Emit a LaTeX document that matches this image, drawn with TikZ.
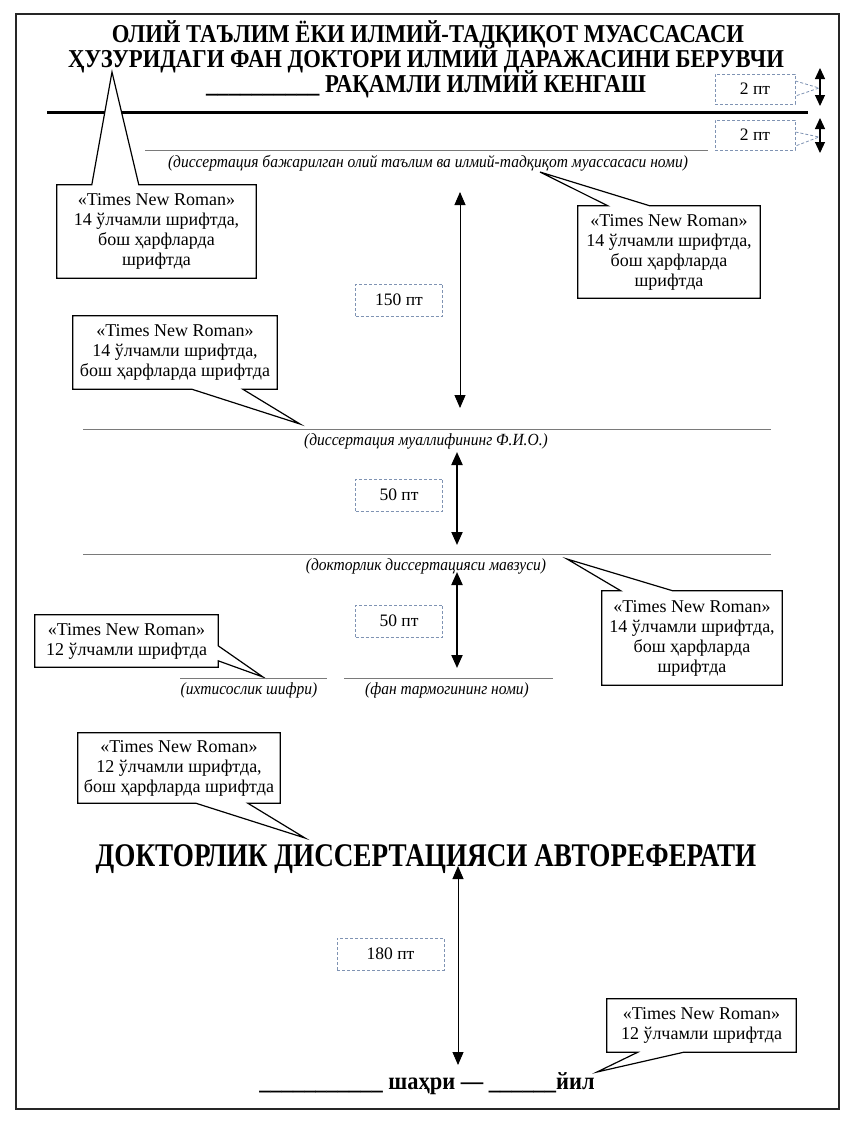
\documentclass[tikz,border=0pt]{standalone}
\usepackage{fontspec}
\setmainfont{Liberation Serif}
\usetikzlibrary{arrows.meta,calc}
\definecolor{dimblue}{HTML}{7F93B3}
\definecolor{linegray}{HTML}{7A7A7A}
\tikzset{
  frame/.style={draw=black!85, line width=1.5pt},
  cbox/.style={inner sep=0pt, align=center, font=\fontsize{18}{20}\selectfont},
  cline/.style={draw=black, line width=1.2pt, fill=white, line join=miter},
  dimbox/.style={draw=dimblue, dashed, line width=1pt, dash pattern=on 3pt off 2pt, inner sep=0pt, font=\fontsize{17.5}{20}\selectfont},
  dimlead/.style={draw=dimblue, dashed, line width=0.8pt, dash pattern=on 3pt off 2pt},
  head/.style={inner sep=0pt, anchor=base, font=\bfseries\fontsize{22}{25}\selectfont},
  capt/.style={inner sep=0pt, font=\itshape\fontsize{15.5}{18}\selectfont},
  fillline/.style={draw=linegray, line width=1pt},
  dimarrow/.style={{Triangle[width=11pt,length=13pt]}-{Triangle[width=11pt,length=13pt]}, line width=0.9pt},
  dimarrowb/.style={{Triangle[width=11pt,length=13pt]}-{Triangle[width=11pt,length=13pt]}, line width=2pt},
  smallarrow/.style={{Triangle[width=10pt,length=11pt]}-{Triangle[width=10pt,length=11pt]}, line width=1.2pt},
}
\newcommand{\hscale}[1]{\scalebox{1.03}[1.17]{#1}}
\newcommand{\cscale}[1]{\scalebox{1}[1.1]{#1}}
\begin{document}
\begin{tikzpicture}[x=1pt,y=-1pt]
\useasboundingbox (0,0) rectangle (846,1138);
\draw[frame] (16,14) rectangle (839,1109);

% header
\node[head] (h1) at (428,42) {\hscale{ОЛИЙ ТАЪЛИМ ЁКИ ИЛМИЙ-ТАДҚИҚОТ МУАССАСАСИ}};
\node[head] (h2) at (426,67) {\hscale{ҲУЗУРИДАГИ ФАН ДОКТОРИ ИЛМИЙ ДАРАЖАСИНИ БЕРУВЧИ}};
\node[head] (h3) at (426,92) {\hscale{\_\_\_\_\_\_\_\_\_\_ РАҚАМЛИ ИЛМИЙ КЕНГАШ}};

% thick rule
\coordinate (r1a) at (47,112);
\coordinate (r1b) at (808,112);
\draw[line width=3pt] (r1a) -- (r1b);

% 2 pt boxes
\node[dimbox, minimum width=80pt, minimum height=30pt] (d1) at (755,89) {2 пт};
\node[dimbox, minimum width=80pt, minimum height=30pt] (d2) at (755,135) {2 пт};
\coordinate (a1t) at (820,68);
\coordinate (a1b) at (820,106);
\coordinate (a2t) at (820,118);
\coordinate (a2b) at (820,153);
\draw[smallarrow] (a1t) -- (a1b);
\draw[smallarrow] (a2t) -- (a2b);
\coordinate (d1p) at (819,88);
\coordinate (d2p) at (819,137);
\draw[dimlead] ($(d1.east)+(0,-8)$) -- (d1p) -- ($(d1.east)+(0,7)$);
\draw[dimlead] ($(d2.east)+(0,-3)$) -- (d2p) -- ($(d2.east)+(0,11)$);

% institution line
\coordinate (l1a) at (145,150);
\coordinate (l1b) at (708,150);
\draw[fillline] (l1a) -- (l1b);
\node[capt] (c1) at (428,163) {\cscale{(диссертация бажарилган олий таълим ва илмий-тадқиқот муассасаси номи)}};

% callout A (left, header)
\node[cbox, minimum width=199pt, minimum height=93pt] (ca) at (156.5,231.5) {};
\coordinate (cat) at (112,72);
\draw[cline] (ca.north west) -- ($(ca.north west)+(35,0)$) -- (cat) -- ($(ca.north west)+(82,0)$) -- (ca.north east) -- (ca.south east) -- (ca.south west) -- cycle;
\node[cbox] at (ca) {«Times New Roman»\\14 ўлчамли шрифтда,\\бош ҳарфларда\\шрифтда};

% callout B (right, institution)
\node[cbox, minimum width=182pt, minimum height=92pt] (cb) at (669,252) {};
\coordinate (cbt) at (540,172);
\draw[cline] (cb.north west) -- ($(cb.north west)+(30,0)$) -- (cbt) -- ($(cb.north west)+(72,0)$) -- (cb.north east) -- (cb.south east) -- (cb.south west) -- cycle;
\node[cbox] at (cb) {«Times New Roman»\\14 ўлчамли шрифтда,\\бош ҳарфларда\\шрифтда};

% 150 pt
\coordinate (v1t) at (460,192);
\coordinate (v1b) at (460,408);
\draw[dimarrow] (v1t) -- (v1b);
\node[dimbox, minimum width=87pt, minimum height=32pt] (d3) at (399,300) {150 пт};

% callout C (left, author)
\node[cbox, minimum width=204pt, minimum height=73pt] (cc) at (175,352.5) {};
\coordinate (cct) at (300,424);
\draw[cline] (cc.north west) -- (cc.north east) -- (cc.south east) -- ($(cc.south west)+(170,0)$) -- (cct) -- ($(cc.south west)+(119,0)$) -- (cc.south west) -- cycle;
\node[cbox] at (cc) {«Times New Roman»\\14 ўлчамли шрифтда,\\бош ҳарфларда шрифтда};

% author line
\coordinate (l2a) at (83,429);
\coordinate (l2b) at (771,429);
\draw[fillline] (l2a) -- (l2b);
\node[capt] (c2) at (426,441) {\cscale{(диссертация муаллифининг Ф.И.О.)}};

% 50 pt (1)
\coordinate (v2t) at (457,452);
\coordinate (v2b) at (457,545);
\draw[dimarrowb] (v2t) -- (v2b);
\node[dimbox, minimum width=87pt, minimum height=32pt] (d4) at (399,495) {50 пт};

% topic line
\coordinate (l3a) at (83,554);
\coordinate (l3b) at (771,554);
\draw[fillline] (l3a) -- (l3b);
\node[capt] (c3) at (426,566) {\cscale{(докторлик диссертацияси мавзуси)}};

% callout D (right, topic)
\node[cbox, minimum width=180pt, minimum height=94pt] (cd) at (692,638) {};
\coordinate (cdt) at (567,559);
\draw[cline] (cd.north west) -- ($(cd.north west)+(19,0)$) -- (cdt) -- ($(cd.north west)+(71,0)$) -- (cd.north east) -- (cd.south east) -- (cd.south west) -- cycle;
\node[cbox] at (cd) {«Times New Roman»\\14 ўлчамли шрифтда,\\бош ҳарфларда\\шрифтда};

% 50 pt (2)
\coordinate (v3t) at (457,572);
\coordinate (v3b) at (457,668);
\draw[dimarrowb] (v3t) -- (v3b);
\node[dimbox, minimum width=87pt, minimum height=32pt] (d5) at (399,621) {50 пт};

% callout E (left small)
\node[cbox, minimum width=183pt, minimum height=52pt] (ce) at (126.5,641) {};
\coordinate (cet) at (263,677);
\draw[cline] (ce.north west) -- (ce.north east) -- ($(ce.north east)+(0,31)$) -- (cet) -- ($(ce.north east)+(0,46)$) -- (ce.south east) -- (ce.south west) -- cycle;
\node[cbox] at (ce) {«Times New Roman»\\12 ўлчамли шрифтда};

% short lines
\coordinate (l4a) at (180,678);
\coordinate (l4b) at (327,678);
\coordinate (l5a) at (344,678);
\coordinate (l5b) at (553,678);
\draw[fillline] (l4a) -- (l4b);
\draw[fillline] (l5a) -- (l5b);
\node[capt] (c4) at (249,690) {\cscale{(ихтисослик шифри)}};
\node[capt] (c5) at (447,690) {\cscale{(фан тармогининг номи)}};

% callout F (above title)
\node[cbox, minimum width=202pt, minimum height=70pt] (cf) at (179,768) {};
\coordinate (cft) at (305,838);
\draw[cline] (cf.north west) -- (cf.north east) -- (cf.south east) -- ($(cf.south west)+(170,0)$) -- (cft) -- ($(cf.south west)+(118,0)$) -- (cf.south west) -- cycle;
\node[cbox] at (cf) {«Times New Roman»\\12 ўлчамли шрифтда,\\бош ҳарфларда шрифтда};

% title
\node[inner sep=0pt, anchor=base, font=\bfseries\fontsize{28}{32}\selectfont] (title) at (426,866) {\scalebox{0.97}[1.18]{ДОКТОРЛИК ДИССЕРТАЦИЯСИ АВТОРЕФЕРАТИ}};

% 180 pt
\coordinate (v4t) at (458,866);
\coordinate (v4b) at (458,1065);
\draw[dimarrow] (v4t) -- (v4b);
\node[dimbox, minimum width=107pt, minimum height=32pt] (d6) at (390.5,954) {180 пт};

% callout G (right bottom)
\node[cbox, minimum width=189pt, minimum height=53pt] (cg) at (701.5,1025.5) {};
\coordinate (cgt) at (597,1072);
\draw[cline] (cg.north west) -- (cg.north east) -- (cg.south east) -- ($(cg.south west)+(77,0)$) -- (cgt) -- ($(cg.south west)+(31,0)$) -- (cg.south west) -- cycle;
\node[cbox] at (cg) {«Times New Roman»\\12 ўлчамли шрифтда};

% bottom
\node[inner sep=0pt, anchor=base, font=\bfseries\fontsize{22}{24}\selectfont] (bot) at (427,1089) {\scalebox{1.02}[1.12]{\_\_\_\_\_\_\_\_\_\_\_ шаҳри — \_\_\_\_\_\_йил}};
\end{tikzpicture}
\end{document}
